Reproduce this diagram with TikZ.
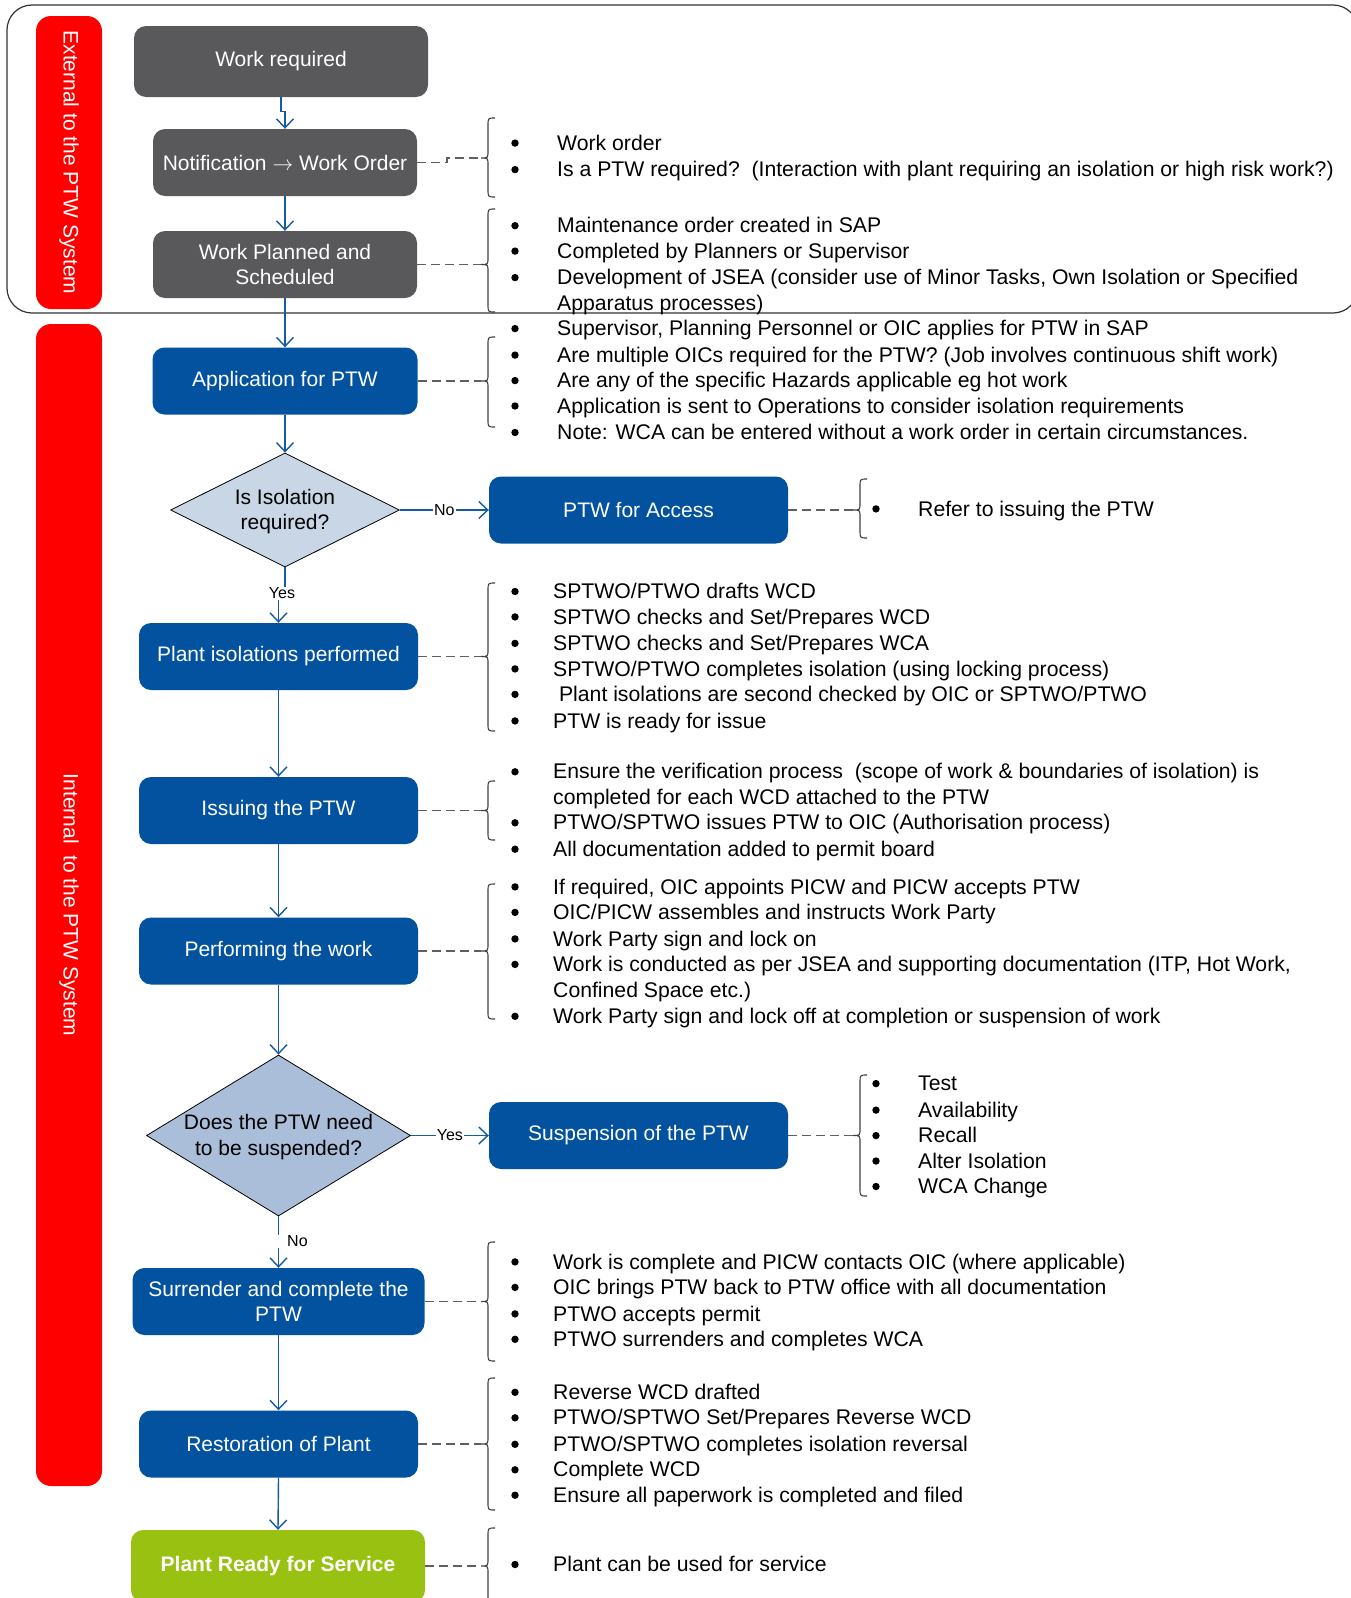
\documentclass[tikz,border=0pt]{standalone}
\usepackage{fontspec}
\setmainfont{Liberation Sans}
\usetikzlibrary{shapes.geometric,arrows.meta}
\definecolor{boxgrey}{RGB}{89,89,91}
\definecolor{boxblue}{RGB}{2,82,160}
\definecolor{boxgreen}{RGB}{153,193,18}
\definecolor{linkblue}{RGB}{20,90,165}
\definecolor{dgrey}{RGB}{95,95,95}
\definecolor{dmA}{RGB}{200,214,229}
\definecolor{dmB}{RGB}{170,190,218}
\definecolor{barred}{RGB}{255,0,0}
\newcounter{lnc}
\newcommand\BLi[4]{\stepcounter{lnc}%
  \pgfmathsetmacro\BLx{#1+4}\pgfmathsetmacro\BLy{#2+0.5}\pgfmathsetmacro\BLt{#1+#3}%
  \fill[black] (\BLx,\BLy) circle (3.7pt);
  \node[lst] (ln\arabic{lnc}) at (\BLt,#2) {#4};}
\newcommand\CLi[4]{\stepcounter{lnc}%
  \pgfmathsetmacro\BLt{#1+#3}%
  \node[lst] (ln\arabic{lnc}) at (\BLt,#2) {#4};}
\newcommand\BRC[4]{%
  \pgfmathsetmacro\BRv{#1+7}\pgfmathsetmacro\BRh{#1+14}%
  \pgfmathsetmacro\BRta{#2+8}\pgfmathsetmacro\BRma{#3-7}%
  \pgfmathsetmacro\BRmb{#3+7}\pgfmathsetmacro\BRba{#4-8}%
  \draw[brc] (\BRh,#2) .. controls (\BRv,#2) .. (\BRv,\BRta) -- (\BRv,\BRma)
    .. controls (\BRv,#3) .. (#1,#3) .. controls (\BRv,#3) .. (\BRv,\BRmb)
    -- (\BRv,\BRba) .. controls (\BRv,#4) .. (\BRh,#4);}
\begin{document}
\begin{tikzpicture}[x=1pt,y=-1pt,
  font=\fontsize{21}{25.5}\selectfont,
  box/.style={rounded corners=12pt, minimum height=67pt, text=white, inner sep=0pt, align=center},
  greybox/.style={box, fill=boxgrey},
  bluebox/.style={box, fill=boxblue},
  greenbox/.style={box, fill=boxgreen, font=\fontsize{21}{25.5}\selectfont\bfseries},
  decision/.style={diamond, draw=black, line width=0.8pt, inner sep=0pt},
  flow/.style={draw=linkblue, line width=1.4pt, -{Straight Barb[length=9pt,width=17pt]}},
  note/.style={draw=dgrey, line width=1.4pt, dash pattern=on 9pt off 5pt},
  brc/.style={draw=black!75, line width=1.1pt},
  lst/.style={anchor=mid west, inner sep=0pt, text=black, yshift=-5pt, font=\fontsize{21.2}{25.5}\selectfont},
  yn/.style={font=\fontsize{16}{16}\selectfont, fill=white, inner sep=1pt},
  redbarbox/.style={fill=barred, rounded corners=15pt, text=white, rotate=-90, inner sep=0pt},
  dtext/.style={align=center, inner sep=0pt, text=black}]
\useasboundingbox (0,0) rectangle (1350,1598);
\fill[white] (0,0) rectangle (1350,1598);
% external system frame
\draw[line width=1.2pt, draw=black!80, rounded corners=25pt] (7,5) rectangle (1358,313);
% red side bars
\node[redbarbox, minimum width=293pt, minimum height=66pt] (ext) at (69,162.5) {External to the PTW System};
\node[redbarbox, minimum width=1162pt, minimum height=66pt] (int) at (69,905) {Internal\ \ to the PTW System};
% process boxes
\node[greybox, minimum width=294pt, minimum height=71pt] (wr) at (281,61.5) {Work required};
\node[greybox, minimum width=264pt] (nwo) at (285,162.5) {Notification $\rightarrow$ Work Order};
\node[greybox, minimum width=264pt] (wps) at (285,264.5) {Work Planned and\\Scheduled};
\node[bluebox, minimum width=265pt] (app) at (285,381) {Application for PTW};
\node[decision, fill=dmA, minimum width=229pt, minimum height=114pt] (d1) at (285,510) {};
\node[dtext] (d1t) at ([yshift=-1.5pt]d1.center) {Is Isolation\\required?};
\node[bluebox, minimum width=299pt] (acc) at (638.5,510) {PTW for Access};
\node[bluebox, minimum width=279pt] (iso) at (278.5,656.5) {Plant isolations performed};
\node[bluebox, minimum width=279pt] (iss) at (278.5,810.5) {Issuing the PTW};
\node[bluebox, minimum width=279pt] (perf) at (278.5,951) {Performing the work};
\node[decision, fill=dmB, minimum width=264pt, minimum height=161pt] (d2) at (278.5,1135.5) {};
\node[dtext] (d2t) at ([yshift=-1.5pt]d2.center) {Does the PTW need\\to be suspended?};
\node[bluebox, minimum width=299pt] (susp) at (638.5,1135.5) {Suspension of the PTW};
\node[bluebox, minimum width=292pt] (surr) at (278.5,1301.5) {Surrender and complete the\\PTW};
\node[bluebox, minimum width=279pt] (rest) at (278.5,1444) {Restoration of Plant};
\node[greenbox, minimum width=294pt, minimum height=72pt] (ready) at (278,1566) {Plant Ready for Service};
% flow connectors
\draw[flow] (wr.south) -- ++(0,14) -| (nwo.north);
\draw[flow] (nwo.south) -- (wps.north);
\draw[flow] (wps.south) -- (app.north);
\draw[flow] (app.south) -- (d1.north);
\draw[flow] (d1.east) -- node[yn] (no1) {No} (acc.west);
\draw[flow] (d1.south) -- ++(0,26) node[yn, xshift=-3pt] (yes1) {Yes} -| (iso.north);
\draw[flow] (iso.south) -- (iss.north);
\draw[flow] (iss.south) -- (perf.north);
\draw[flow] (perf.south) -- (d2.north);
\draw[flow] (d2.east) -- node[yn] (yes2) {Yes} (susp.west);
\draw[flow] (d2.south) -- node[yn, pos=0.48, anchor=west, xshift=-5pt] (no2) {\hspace*{12pt}No} (surr.north);
\draw[flow] (surr.south) -- (rest.north);
\draw[flow] (rest.south) -- (ready.north);
% braces
\BRC{481}{118}{158}{197}
\BRC{481}{209}{264.5}{312}
\BRC{481}{337}{381}{427}
\BRC{853}{479}{510}{538}
\BRC{481}{583}{656.5}{731}
\BRC{481}{781}{810.5}{840}
\BRC{481}{884}{951}{1019}
\BRC{853}{1075}{1135.5}{1196}
\BRC{481}{1242}{1301.5}{1361}
\BRC{481}{1378}{1444}{1510}
\BRC{481}{1528}{1566}{1604}
\coordinate (t1) at (481,158);
\coordinate (t2) at (481,264.5);
\coordinate (t3) at (481,381);
\coordinate (t4) at (853,510);
\coordinate (t5) at (481,656.5);
\coordinate (t6) at (481,810.5);
\coordinate (t7) at (481,951);
\coordinate (t8) at (853,1135.5);
\coordinate (t9) at (481,1301.5);
\coordinate (t10) at (481,1444);
\coordinate (t11) at (481,1566);
% dashed annotation links
\draw[note] (nwo.east) -- (447,162.5) |- (t1);
\draw[note] (wps.east) -- (t2);
\draw[note] (app.east) -- (t3);
\draw[note] (acc.east) -- (t4);
\draw[note] (iso.east) -- (t5);
\draw[note] (iss.east) -- (t6);
\draw[note] (perf.east) -- (t7);
\draw[note] (susp.east) -- (t8);
\draw[note] (surr.east) -- (t9);
\draw[note] (rest.east) -- (t10);
\draw[note] (ready.east) -- (t11);
% bullet lists
\BLi{511}{142.6}{46}{Work order}
\BLi{511}{169.1}{46}{Is a PTW required?\ \ (Interaction with plant requiring an isolation or high risk work?)}
\BLi{511}{225.2}{46}{Maintenance order created in SAP}
\BLi{511}{250.6}{46}{Completed by Planners or Supervisor}
\BLi{511}{277.1}{46}{Development of JSEA (consider use of Minor Tasks, Own Isolation or Specified}
\CLi{511}{302.6}{46}{Apparatus processes)}
\BLi{511}{328.1}{46}{Supervisor, Planning Personnel or OIC applies for PTW in SAP}
\BLi{511}{354.6}{46}{Are multiple OICs required for the PTW? (Job involves continuous shift work)}
\BLi{511}{380.1}{46}{Are any of the specific Hazards applicable eg hot work}
\BLi{511}{405.5}{46}{Application is sent to Operations to consider isolation requirements}
\BLi{511}{432.0}{46}{Note: WCA can be entered without a work order in certain circumstances.}
\BLi{872}{508.4}{46}{Refer to issuing the PTW}
\BLi{511}{591}{42}{SPTWO/PTWO drafts WCD}
\BLi{511}{616.4}{42}{SPTWO checks and Set/Prepares WCD}
\BLi{511}{642.9}{42}{SPTWO checks and Set/Prepares WCA}
\BLi{511}{668.4}{42}{SPTWO/PTWO completes isolation (using locking process)}
\BLi{511}{693.9}{42}{\ Plant isolations are second checked by OIC or SPTWO/PTWO}
\BLi{511}{720.4}{42}{PTW is ready for issue}
\BLi{511}{771.3}{42}{Ensure the verification process\ \ (scope of work \& boundaries of isolation) is}
\CLi{511}{796.8}{42}{completed for each WCD attached to the PTW}
\BLi{511}{822.3}{42}{PTWO/SPTWO issues PTW to OIC (Authorisation process)}
\BLi{511}{848.7}{42}{All documentation added to permit board}
\BLi{511}{886.4}{42}{If required, OIC appoints PICW and PICW accepts PTW}
\BLi{511}{911.9}{42}{OIC/PICW assembles and instructs Work Party}
\BLi{511}{938.4}{42}{Work Party sign and lock on}
\BLi{511}{963.9}{42}{Work is conducted as per JSEA and supporting documentation (ITP, Hot Work,}
\CLi{511}{989.4}{42}{Confined Space etc.)}
\BLi{511}{1015.8}{42}{Work Party sign and lock off at completion or suspension of work}
\BLi{872}{1083.1}{46}{Test}
\BLi{872}{1109.6}{46}{Availability}
\BLi{872}{1135.1}{46}{Recall}
\BLi{872}{1160.5}{46}{Alter Isolation}
\BLi{872}{1186}{46}{WCA Change}
\BLi{511}{1261.4}{42}{Work is complete and PICW contacts OIC (where applicable)}
\BLi{511}{1286.9}{42}{OIC brings PTW back to PTW office with all documentation}
\BLi{511}{1313.4}{42}{PTWO accepts permit}
\BLi{511}{1338.8}{42}{PTWO surrenders and completes WCA}
\BLi{511}{1391.8}{42}{Reverse WCD drafted}
\BLi{511}{1417.3}{42}{PTWO/SPTWO Set/Prepares Reverse WCD}
\BLi{511}{1443.8}{42}{PTWO/SPTWO completes isolation reversal}
\BLi{511}{1469.3}{42}{Complete WCD}
\BLi{511}{1494.7}{42}{Ensure all paperwork is completed and filed}
\BLi{511}{1564}{42}{Plant can be used for service}
\end{tikzpicture}
\end{document}
